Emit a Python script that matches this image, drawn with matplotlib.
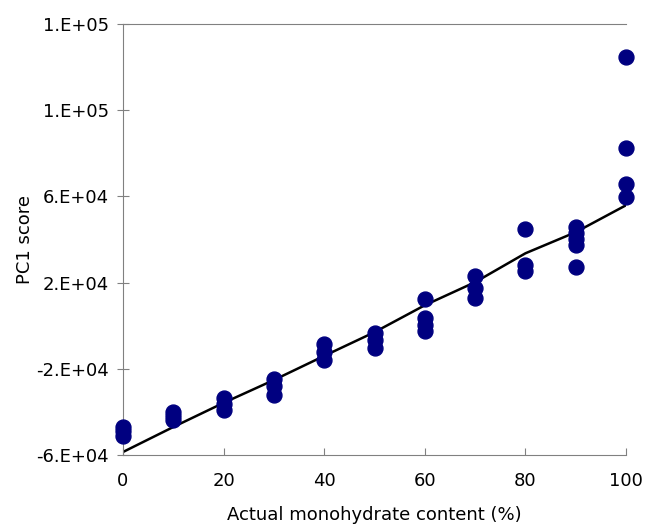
import matplotlib
matplotlib.use("Agg")
import matplotlib.pyplot as plt

plt.rcParams['font.family'] = ['DejaVu Sans']

# monohydrate content (%) and measured PC1 scores
content = [0, 0, 0,
           10, 10, 10,
           20, 20, 20,
           30, 30, 30,
           40, 40, 40,
           50, 50, 50,
           60, 60, 60, 60,
           70, 70, 70,
           80, 80, 80,
           90, 90, 90, 90, 90,
           100, 100, 100, 100]
pc1 = [-47000, -48900, -51200,
       -40100, -41900, -43800,
       -33600, -36400, -39100,
       -24800, -28000, -32200,
       -8600, -12300, -16000,
       -3500, -6700, -10400,
       12300, 3500, 260, -2500,
       23000, 17400, 12800,
       44800, 28100, 25300,
       45700, 42900, 40100, 37300, 27100,
       124900, 82300, 65600, 59600]

# fitted line
fit_x = [0, 10, 20, 30, 40, 50, 60, 70, 80, 90, 100]
fit_y = [-58600, -47000, -35800, -25200, -14000, -3000, 9500, 20200, 33600, 43400, 55900]

yticks = [-60000, -20000, 20000, 60000, 100000, 140000]
ylabels = ["-6.E+04", "-2.E+04", "2.E+04", "6.E+04", "1.E+05", "1.E+05"]

fig = plt.figure(figsize=(6.49, 5.25), dpi=100)
ax = fig.add_axes([0.1895, 0.1333, 0.7751, 0.821])

ax.plot(fit_x, fit_y, color="black", linewidth=1.8, zorder=2)
ax.scatter(content, pc1, s=115, color="#000080", zorder=3, clip_on=False)

ax.set_xlim(0, 100)
ax.set_ylim(-60000, 140000)
ax.set_xticks([0, 20, 40, 60, 80, 100])
ax.set_yticks(yticks)
ax.set_yticklabels(ylabels)

for s in ["left", "bottom", "top"]:
    ax.spines[s].set_color("#808080")
ax.spines["right"].set_visible(False)
ax.tick_params(axis="y", direction="inout", length=8, color="#808080", labelsize=13, pad=6)
ax.tick_params(axis="x", direction="in", length=5, color="#808080", labelsize=13, pad=12)

ax.set_xlabel("Actual monohydrate content (%)", fontsize=13, labelpad=12)
ax.set_ylabel("PC1 score", fontsize=13, labelpad=2)

fig.savefig("out.png", dpi=100)
